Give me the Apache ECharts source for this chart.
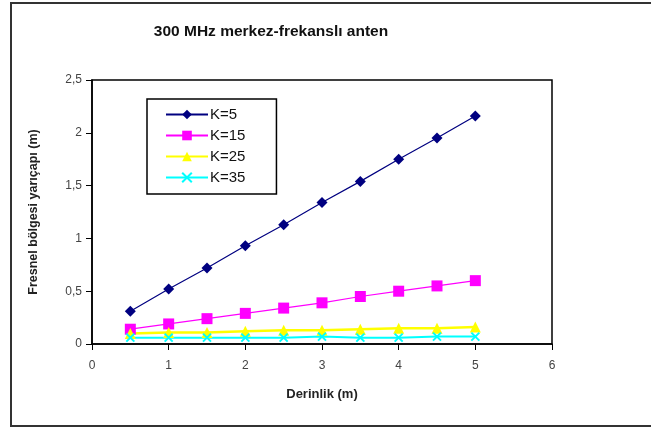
<html>
<head>
    <meta charset="utf-8">
    <title>Fresnel</title>
    <script src="https://cdn.jsdelivr.net/npm/echarts@6/dist/echarts.min.js"></script>
</head>
<body style="margin:0;background:#fff">

<div id="main" style="width: 651px;height:430px;"></div>

<script type="text/javascript">

    // derinlik (m)
    var depth = [0.5, 1, 1.5, 2, 2.5, 3, 3.5, 4, 4.5, 5];
    var k5  = [0.31, 0.52, 0.72, 0.93, 1.13, 1.34, 1.54, 1.75, 1.95, 2.16];
    var k15 = [0.14, 0.19, 0.24, 0.29, 0.34, 0.39, 0.45, 0.50, 0.55, 0.60];
    var k25 = [0.10, 0.11, 0.11, 0.12, 0.13, 0.13, 0.14, 0.15, 0.15, 0.16];
    var k35 = [0.06, 0.06, 0.06, 0.06, 0.06, 0.07, 0.06, 0.06, 0.07, 0.07];
    var names = ['K=5', 'K=15', 'K=25', 'K=35'];
    var xTicks = [0, 1, 2, 3, 4, 5, 6];
    var yTicks = ['0', '0,5', '1', '1,5', '2', '2,5'];

    var crossPath = 'path://M0,0L10,10M10,0L0,10';

    function pairs(ys) {
        return depth.map(function (x, i) { return [x, ys[i]]; });
    }

    function serie(name, ys, color, symbol, size, lw) {
        return {
            name: name,
            type: 'line',
            data: pairs(ys),
            symbol: symbol,
            symbolSize: size,
            lineStyle: { color: color, width: lw },
            itemStyle: { color: color, borderColor: color, borderWidth: symbol === crossPath ? 2 : 0 },
            animation: false
        };
    }

    var myChart = echarts.init(document.getElementById('main'));

    var option = {
        backgroundColor: '#fff',
        textStyle: { fontFamily: 'Liberation Sans, Arial, sans-serif' },
        title: {
            text: '300 MHz merkez-frekanslı anten',
            left: 266,
            top: 19,
            textAlign: 'center',
            textStyle: { fontSize: 15.5, fontWeight: 'bold', color: '#111' }
        },
        graphic: [{
            type: 'rect',
            shape: { x: 11, y: 3, width: 660, height: 423 },
            style: { fill: 'none', stroke: '#333', lineWidth: 2 }
        }],
        legend: {
            data: names,
            orient: 'vertical',
            left: 147,
            top: 99,
            itemWidth: 42,
            itemHeight: 12,
            itemGap: 6,
            padding: [8, 31, 9, 18],
            borderColor: '#000',
            borderWidth: 1.5,
            backgroundColor: '#fff',
            textStyle: { fontSize: 15, color: '#111', padding: [0, 0, 0, -3] }
        },
        grid: {
            left: 92, top: 80, right: 99, bottom: 86,
            show: true, borderColor: '#000', borderWidth: 1.5
        },
        xAxis: {
            type: 'value',
            min: 0, max: 6, interval: 1,
            name: 'Derinlik (m)',
            nameLocation: 'middle',
            nameGap: 44,
            nameTextStyle: { fontSize: 13, fontWeight: 'bold', color: '#222' },
            axisLine: { lineStyle: { color: '#000', width: 1.5 } },
            axisTick: { length: 6, lineStyle: { color: '#000' } },
            axisLabel: {
                color: '#444', fontSize: 12, margin: 16,
                formatter: function (v) { return xTicks.indexOf(v) >= 0 ? String(v) : ''; }
            },
            splitLine: { show: false }
        },
        yAxis: {
            type: 'value',
            min: 0, max: 2.5, interval: 0.5,
            name: 'Fresnel bölgesi yarıçapı (m)',
            nameLocation: 'middle',
            nameGap: 52,
            nameTextStyle: { fontSize: 12.5, fontWeight: 'bold', color: '#222' },
            axisLine: { show: true, lineStyle: { color: '#000', width: 1.5 } },
            axisTick: { show: true, length: 6, lineStyle: { color: '#000' } },
            axisLabel: {
                color: '#444', fontSize: 12, margin: 10,
                formatter: function (v) { return yTicks[Math.round(v * 2)]; }
            },
            splitLine: { show: false }
        },
        series: [
            serie('K=5', k5, '#000080', 'diamond', 11, 1.2),
            serie('K=15', k15, '#ff00ff', 'rect', 11, 1.2),
            serie('K=25', k25, '#ffff00', 'triangle', 11, 2.5),
            serie('K=35', k35, '#00ffff', crossPath, 8, 2)
        ]
    };

    myChart.setOption(option);

</script>
</body>
</html>
